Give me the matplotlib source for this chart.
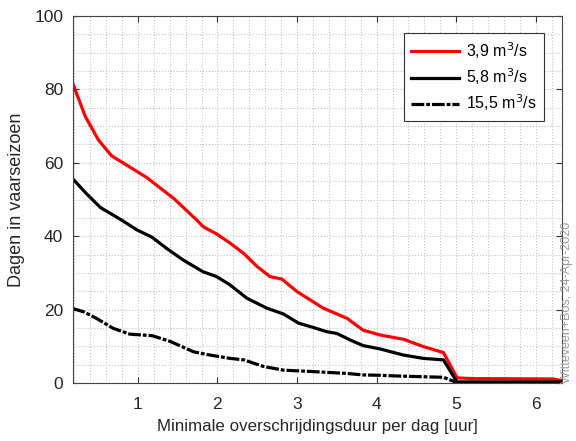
"""Dagen in vaarseizoen versus minimale overschrijdingsduur per dag."""

import matplotlib
matplotlib.use("Agg")
import matplotlib.pyplot as plt
from matplotlib.ticker import MultipleLocator

plt.rcParams["font.family"] = ["Liberation Sans", "DejaVu Sans"]

# ── data ──
x_q39 = [0.18, 0.34, 0.505, 0.67, 0.82, 1.11, 1.45, 1.74, 1.82, 1.99, 2.16, 2.33,
         2.50, 2.66, 2.81, 3.00, 3.33, 3.63, 3.83, 4.04, 4.34, 4.59, 4.84, 5.01,
         5.2, 6.22, 6.33]
y_q39 = [81.7, 72.6, 66.2, 61.9, 59.9, 56.0, 50.3, 44.4, 42.6, 40.6, 38.1, 35.3,
         31.7, 29.0, 28.3, 24.9, 20.4, 17.6, 14.4, 13.1, 11.9, 9.9, 8.3, 1.4,
         1.2, 1.1, 0.6]

x_q58 = [0.18, 0.34, 0.53, 0.78, 0.99, 1.18, 1.36, 1.57, 1.82, 1.99, 2.16, 2.37,
         2.62, 2.83, 3.02, 3.21, 3.37, 3.50, 3.67, 3.83, 4.04, 4.34, 4.59, 4.84,
         5.01, 6.33]
y_q58 = [55.7, 51.9, 47.8, 44.6, 41.7, 39.7, 36.7, 33.5, 30.3, 29.0, 26.7, 23.1,
         20.4, 18.8, 16.3, 15.1, 14.0, 13.5, 11.7, 10.2, 9.3, 7.6, 6.7, 6.3,
         0.3, 0.3]

x_q155 = [0.18, 0.32, 0.48, 0.69, 0.90, 1.18, 1.41, 1.70, 1.91, 2.16, 2.33, 2.58,
          2.83, 3.21, 3.63, 3.83, 4.04, 4.27, 4.84, 5.01, 6.33]
y_q155 = [20.3, 19.4, 17.6, 14.9, 13.3, 12.9, 11.3, 8.5, 7.6, 6.7, 6.3, 4.5,
          3.5, 3.1, 2.6, 2.2, 2.1, 1.9, 1.55, 0.1, 0.0]

labels = ["3,9 m$^3$/s", "5,8 m$^3$/s", "15,5 m$^3$/s"]

fig = plt.figure(figsize=(5.76, 4.41), dpi=100)
ax = fig.add_axes([73 / 576, 1 - 383 / 441, (562 - 73) / 576, (383 - 16) / 441])

ax.plot(x_q39, y_q39, color="#ff0000", linewidth=2.3, label=labels[0])
ax.plot(x_q58, y_q58, color="black", linewidth=2.3, label=labels[1])
ax.plot(x_q155, y_q155, color="black", linewidth=2.3,
        dashes=(4, 0.6, 1.2, 0.6), label=labels[2])

ax.set_xlim(0.185, 6.33)
ax.set_ylim(0, 100)
ax.xaxis.set_major_locator(MultipleLocator(1))
ax.xaxis.set_minor_locator(MultipleLocator(0.2))
ax.yaxis.set_major_locator(MultipleLocator(20))
ax.yaxis.set_minor_locator(MultipleLocator(5))

ax.grid(which="both", color="#c4c4c4", linestyle=":", linewidth=0.8)
ax.set_axisbelow(True)
ax.tick_params(which="major", direction="in", top=True, right=True,
               length=4, labelsize=12.5, color="#333333", labelcolor="#262626")
ax.tick_params(axis="x", which="major", pad=10)
ax.tick_params(axis="y", which="major", pad=7)
ax.tick_params(which="minor", length=0, top=True, right=True)
for spine in ax.spines.values():
    spine.set_color("#444444")
    spine.set_linewidth(0.8)

ax.set_xlabel("Minimale overschrijdingsduur per dag [uur]", fontsize=12.2,
              color="#262626", labelpad=5)
ax.set_ylabel("Dagen in vaarseizoen", fontsize=13, color="#262626", labelpad=7)

leg = ax.legend(loc="upper right", bbox_to_anchor=(544 / 576, 1 - 33 / 441),
                bbox_transform=fig.transFigure, borderaxespad=0, fontsize=11.5,
                handlelength=3.0, handletextpad=0.45, labelspacing=0.35,
                borderpad=0.45, fancybox=False, framealpha=1,
                edgecolor="#333333")
leg.get_frame().set_linewidth(0.8)

fig.text(567 / 576, 1 - 383 / 441, "Witteveen+Bos, 24-Apr-2020", rotation=90,
         fontsize=9, color="#9a9a9a", ha="center", va="bottom")

fig.savefig("out.png", dpi=100)
plt.close(fig)
